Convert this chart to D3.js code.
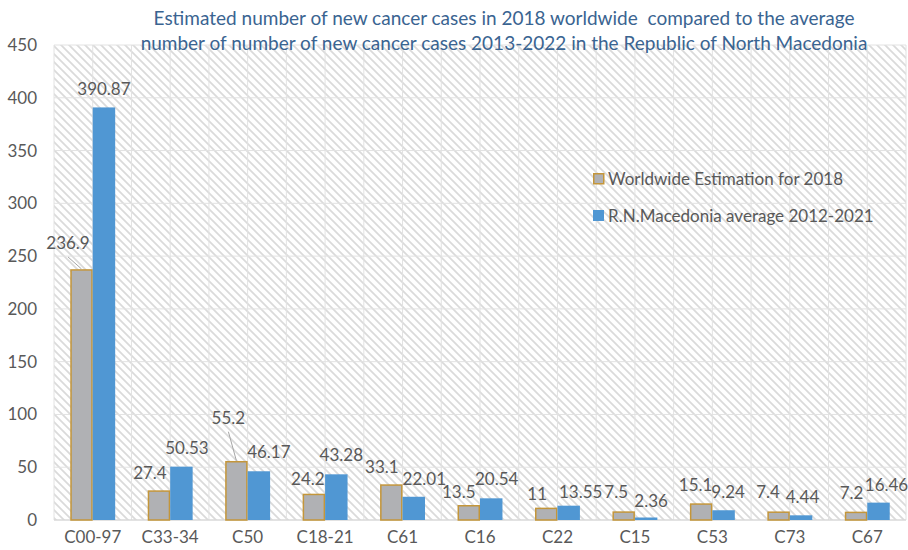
<!DOCTYPE html>
<html>
<head>
<meta charset="utf-8">
<script src="https://cdn.jsdelivr.net/npm/d3@7/dist/d3.min.js"></script>
<style>
  html, body { margin: 0; padding: 0; background: #ffffff; }
  svg { display: block; }
</style>
</head>
<body>
<svg id="chart" width="908" height="550"></svg>
<script>
// ---- data ----
const categories = ["C00-97", "C33-34", "C50", "C18-21", "C61", "C16", "C22", "C15", "C53", "C73", "C67"];
const worldwide2018 = [236.9, 27.4, 55.2, 24.2, 33.1, 13.5, 11, 7.5, 15.1, 7.4, 7.2];
const macedoniaAvg = [390.87, 50.53, 46.17, 43.28, 22.01, 20.54, 13.55, 2.36, 9.24, 4.44, 16.46];
const seriesNames = ["Worldwide Estimation for 2018", "R.N.Macedonia average 2012-2021"];
const yTicks = [0, 50, 100, 150, 200, 250, 300, 350, 400, 450];
const titleLines = [
  "Estimated number of new cancer cases in 2018 worldwide  compared to the average",
  "number of number of new cancer cases 2013-2022 in the Republic of North Macedonia"
];

// ---- layout / style (manual label nudges [dx, dy] as placed in the original chart) ----
const grayNudge = [[-13.5, -9], [-9, 0], [-8, -26], [-6, 3], [-9.5, 0], [-10, 4], [-9, 4], [-7.5, -2], [-5.5, -1], [-10.5, -2], [-4.5, -1]];
const blueNudge = [[0, 0], [5.5, -1], [10, -1], [5, -1], [10.5, 0], [5.5, -1], [12, 4], [5, 1.5], [4.5, 0], [1.5, 0], [8, 0]];

const W = 908, H = 550;
const M = { left: 54, right: 2, top: 45, bottom: 30 };
const FONT = "Lato, 'Open Sans', sans-serif";
const TXT = "#595959";
const GRAY = "#b0b1b4", GOLD = "#c4963a", BLUE = "#5097d3";
const FS = "17px";

const svg = d3.select("#chart");
const defs = svg.append("defs");
const pat = defs.append("pattern")
  .attr("id", "hatch").attr("patternUnits", "userSpaceOnUse")
  .attr("width", 8).attr("height", 8);
pat.append("rect").attr("width", 8).attr("height", 8).attr("fill", "#ffffff");
pat.append("path").attr("d", "M-2,-2 L10,10 M-2,6 L2,10 M6,-2 L10,2")
  .attr("stroke", "#dadada").attr("stroke-width", 1.7);

const x0 = d3.scaleBand().domain(categories).range([M.left, W - M.right]).paddingInner(0).paddingOuter(0);
const innerPad = 0.42;
const y = d3.scaleLinear().domain([0, 450]).range([H - M.bottom, M.top]);

// plot background
svg.append("rect")
  .attr("x", M.left).attr("y", y(450))
  .attr("width", x0.range()[1] - M.left).attr("height", y(0) - y(450))
  .attr("fill", "url(#hatch)");

// vertical grid lines (half category)
const bw = x0.bandwidth();
const vLines = d3.range(0, categories.length * 2 + 1).map(k => M.left + k * bw / 2);
svg.append("g").selectAll("line").data(vLines).join("line")
  .attr("x1", d => d).attr("x2", d => d)
  .attr("y1", y(450)).attr("y2", y(0))
  .attr("stroke", "#e2e2e2").attr("stroke-width", 1);

// horizontal grid lines
svg.append("g").selectAll("line").data(yTicks).join("line")
  .attr("x1", M.left).attr("x2", x0.range()[1])
  .attr("y1", d => y(d)).attr("y2", d => y(d))
  .attr("stroke", d => d === 0 ? "#d9d9d9" : "#e2e2e2").attr("stroke-width", d => d === 0 ? 1.5 : 1);

// y axis
const yAxis = d3.axisLeft(y).tickValues(yTicks).tickSize(0).tickPadding(17);
const yg = svg.append("g").attr("transform", `translate(${M.left},0)`).call(yAxis);
yg.select(".domain").remove();
yg.selectAll("text").attr("fill", TXT).style("font-family", FONT).style("font-size", FS);

// x axis
const xAxis = d3.axisBottom(x0).tickSize(0).tickPadding(11);
const xg = svg.append("g").attr("transform", `translate(0,${y(0)})`).call(xAxis);
xg.select(".domain").remove();
xg.selectAll("text").attr("fill", TXT).style("font-family", FONT).style("font-size", FS);

// bars
const x1 = d3.scaleBand().domain([0, 1]).range([0, bw * (1 - innerPad)]);
const off = bw * innerPad / 2;
const g = svg.append("g");
categories.forEach((c, i) => {
  const bx = x0(c) + off;
  g.append("rect")
    .attr("x", bx + x1(0) + 0.75).attr("y", y(worldwide2018[i]))
    .attr("width", x1.bandwidth() - 1.5).attr("height", y(0) - y(worldwide2018[i]))
    .attr("fill", GRAY).attr("stroke", GOLD).attr("stroke-width", 1.5);
  g.append("rect")
    .attr("x", bx + x1(1)).attr("y", y(macedoniaAvg[i]))
    .attr("width", x1.bandwidth()).attr("height", y(0) - y(macedoniaAvg[i]))
    .attr("fill", BLUE);
});

// labels (centre placed 18px above the bar top, then nudged)
categories.forEach((c, i) => {
  const bx = x0(c) + off;
  const gx = bx + x1(0) + x1.bandwidth() / 2;
  const bxx = bx + x1(1) + x1.bandwidth() / 2;
  const gTop = y(worldwide2018[i]);
  const bTop = y(macedoniaAvg[i]);
  const gcx = gx + grayNudge[i][0], gcy = gTop - 18 + grayNudge[i][1];
  g.append("text").attr("x", gcx).attr("y", gcy + 6)
    .attr("text-anchor", "middle").attr("fill", TXT)
    .style("font-family", FONT).style("font-size", FS).text(worldwide2018[i]);
  if (i === 0 || i === 2) {
    g.append("line").attr("x1", gcx).attr("y1", gcy + 14)
      .attr("x2", gx).attr("y2", gTop - 1)
      .attr("stroke", "#a6a6a6").attr("stroke-width", 1);
  }
  g.append("text").attr("x", bxx + blueNudge[i][0]).attr("y", bTop - 18 + blueNudge[i][1] + 6)
    .attr("text-anchor", "middle").attr("fill", TXT)
    .style("font-family", FONT).style("font-size", FS).text(macedoniaAvg[i]);
});

// legend
const lg = svg.append("g").attr("transform", "translate(593,173)");
seriesNames.forEach((n, i) => {
  const row = lg.append("g").attr("transform", `translate(0,${i * 37})`);
  row.append("rect").attr("x", i === 0 ? 0.75 : 0).attr("y", i === 0 ? 0.75 : 0)
    .attr("width", i === 0 ? 10 : 11).attr("height", i === 0 ? 10 : 11)
    .attr("fill", i === 0 ? GRAY : BLUE)
    .attr("stroke", i === 0 ? GOLD : "none").attr("stroke-width", 1.5);
  row.append("text").attr("x", 15).attr("y", 6).attr("dy", "0.35em")
    .attr("fill", TXT).style("font-family", FONT).style("font-size", FS).text(n);
});

// title
svg.append("g").selectAll("text").data(titleLines).join("text")
  .attr("x", 504).attr("y", (d, i) => 25 + i * 25)
  .attr("text-anchor", "middle").attr("fill", "#3a6491")
  .style("white-space", "pre")
  .style("font-family", FONT).style("font-size", "19px").text(d => d);
</script>
</body>
</html>
